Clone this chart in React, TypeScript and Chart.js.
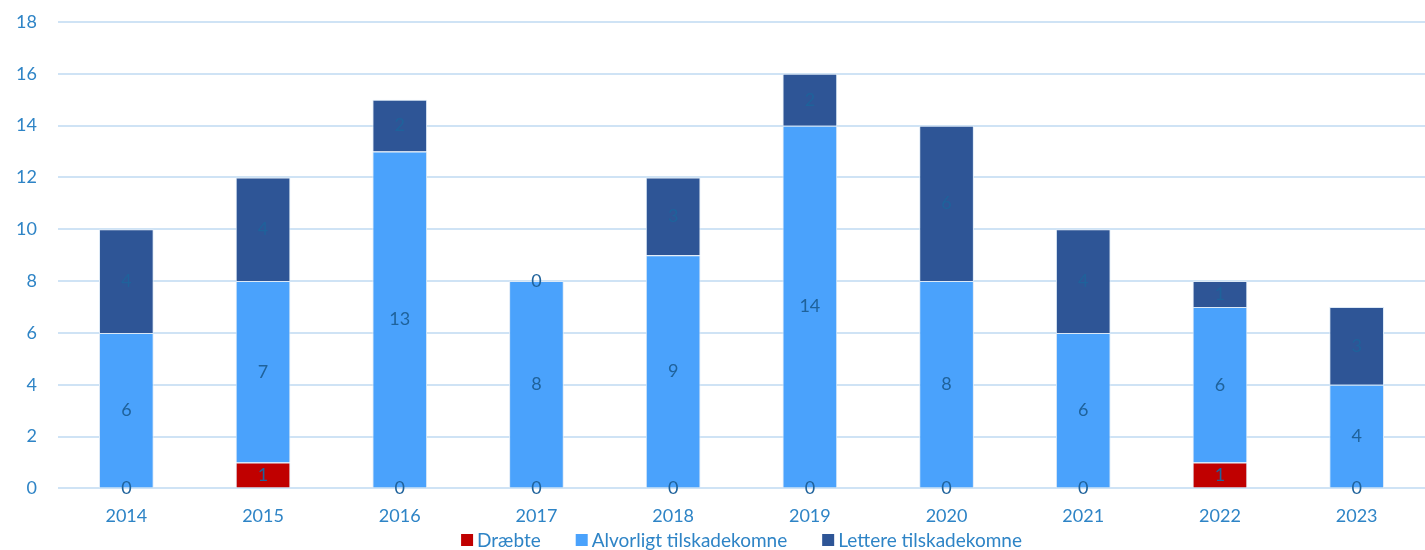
import React, { useEffect, useRef } from "react";
import { Chart, registerables } from "chart.js";

Chart.register(...registerables);

const years = ["2014", "2015", "2016", "2017", "2018", "2019", "2020", "2021", "2022", "2023"];
const draebte = [0, 1, 0, 0, 0, 0, 0, 0, 1, 0];
const alvorligt = [6, 7, 13, 8, 9, 14, 8, 6, 6, 4];
const lettere = [4, 4, 2, 0, 3, 2, 6, 4, 1, 3];
const yTicks = [0, 2, 4, 6, 8, 10, 12, 14, 16, 18];

const FONT = "Lato, 'Open Sans', sans-serif";
const TICK_COLOR = "#2e84c6";
const LABEL_COLOR = "#1f629b";

const labelPlugin = {
  id: "segLabels",
  afterDatasetsDraw(chart: any) {
    const ctx = chart.ctx;
    ctx.save();
    ctx.font = `18px ${FONT}`;
    ctx.fillStyle = LABEL_COLOR;
    ctx.textAlign = "center";
    ctx.textBaseline = "middle";
    chart.data.datasets.forEach((ds: any, i: number) => {
      const meta = chart.getDatasetMeta(i);
      meta.data.forEach((bar: any, j: number) => {
        const v = ds.data[j];
        const cy = (bar.y + bar.base) / 2;
        ctx.fillText(String(v), bar.x, cy);
      });
    });
    ctx.restore();
  },
};

const legendPlugin = {
  id: "customLegend",
  afterDraw(chart: any) {
    const ctx = chart.ctx;
    const box = 12, gapText = 4, gapItem = 35, y = 540;
    ctx.save();
    ctx.font = `19px ${FONT}`;
    ctx.textBaseline = "middle";
    const items = chart.data.datasets.map((ds: any) => ({
      label: ds.label,
      color: ds.backgroundColor,
      w: box + gapText + ctx.measureText(ds.label).width,
    }));
    const total = items.reduce((a: number, it: any) => a + it.w, 0) + gapItem * (items.length - 1);
    const cx = (chart.chartArea.left + chart.chartArea.right) / 2;
    let x = cx - total / 2;
    items.forEach((it: any) => {
      ctx.fillStyle = it.color;
      ctx.fillRect(x, y - box / 2, box, box);
      ctx.fillStyle = TICK_COLOR;
      ctx.textAlign = "left";
      ctx.fillText(it.label, x + box + gapText, y + 1);
      x += it.w + gapItem;
    });
    ctx.restore();
  },
};

export default function App() {
  const ref = useRef<HTMLCanvasElement>(null);
  useEffect(() => {
    document.body.style.margin = "0";
    const chart = new Chart(ref.current!, {
      type: "bar",
      data: {
        labels: years,
        datasets: [
          { label: "Dræbte", data: draebte, backgroundColor: "#c00000", borderColor: "#dce9f6", borderWidth: 1 },
          { label: "Alvorligt tilskadekomne", data: alvorligt, backgroundColor: "#4aa2fc", borderColor: "#dce9f6", borderWidth: 1 },
          { label: "Lettere tilskadekomne", data: lettere, backgroundColor: "#2e5596", borderColor: "#dce9f6", borderWidth: 1 },
        ],
      },
      options: {
        animation: false,
        responsive: false,
        maintainAspectRatio: false,
        layout: { padding: { top: 22, right: 0, left: 0, bottom: 6 } },
        datasets: { bar: { categoryPercentage: 1, barPercentage: 0.4 } },
        scales: {
          x: {
            stacked: true,
            grid: { display: false, drawTicks: false },
            border: { display: false },
            ticks: { color: TICK_COLOR, font: { family: FONT, size: 18 }, padding: 17 },
          },
          y: {
            stacked: true,
            min: 0,
            max: 18,
            afterFit: (s: any) => { s.width = 58; s.paddingTop = 0; s.paddingBottom = 0; },
            afterBuildTicks: (s: any) => { s.ticks = yTicks.map((v) => ({ value: v })); },
            grid: { color: "#cfe3f5", lineWidth: 2, drawTicks: false },
            border: { display: false },
            ticks: { color: TICK_COLOR, font: { family: FONT, size: 18 }, padding: 21 },
          },
        },
        plugins: {
          tooltip: { enabled: false },
          legend: { display: false },
        },
      },
      plugins: [labelPlugin, legendPlugin],
    } as any);
    return () => chart.destroy();
  }, []);
  return (
    <div style={{ position: "absolute", left: 0, top: 0, width: 1425, height: 550 }}>
      <canvas ref={ref} width={1425} height={550} style={{ width: 1425, height: 550 }} />
    </div>
  );
}
